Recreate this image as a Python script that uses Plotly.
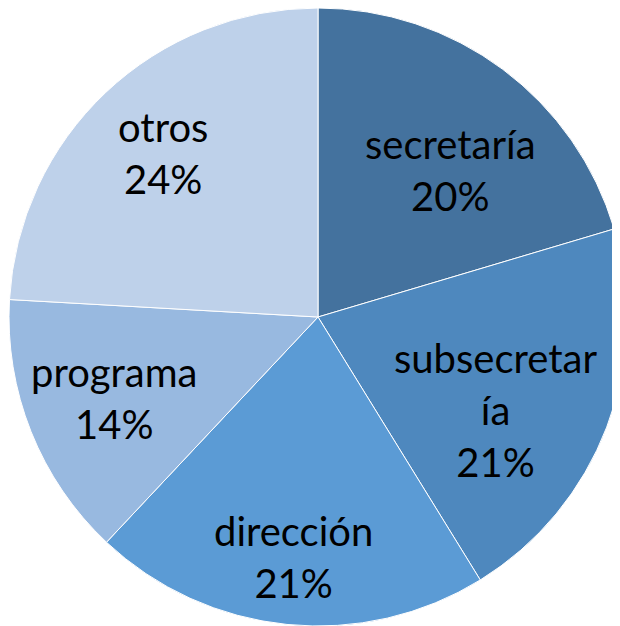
import math
import plotly.graph_objects as go

labels = ["secretaría", "subsecretaría", "dirección", "programa", "otros"]
label_text = ["secretaría", "subsecretar<br>ía", "dirección", "programa", "otros"]
values = [20.4, 20.8, 20.8, 13.9, 24.1]
colors = ["#44729E", "#4E88BE", "#5B9BD5", "#98B9E0", "#BED1EA"]
# label placement (style only): fraction of radius and angular nudge in degrees
label_radius = [0.64, 0.65, 0.78, 0.71, 0.73]
label_nudge = [5.2, 6.8, 0.0, 0.0, 0.0]

W, H = 620, 626
dom_y = [1 - 618 / H, 1.0]

fig = go.Figure(go.Pie(
    labels=labels,
    values=values,
    textinfo="none",
    sort=False,
    direction="clockwise",
    rotation=0,
    domain=dict(x=[0, 1], y=dom_y),
    marker=dict(colors=colors, line=dict(color="#FFFFFF", width=1)),
    showlegend=False,
    hoverinfo="label+percent",
))

# label positions derived from the slice angles
R = min(W, H * (dom_y[1] - dom_y[0])) / 2
cx = W / 2
cy = H * (1 - (dom_y[0] + dom_y[1]) / 2)  # from top
total = sum(values)
cum = 0.0
annotations = []
for txt, v, f, nd in zip(label_text, values, label_radius, label_nudge):
    mid = (cum + v / 2) / total * 2 * math.pi + math.radians(nd)
    cum += v
    px = cx + f * R * math.sin(mid)
    py = cy - f * R * math.cos(mid)
    pct = round(v / total * 100)
    annotations.append(dict(
        x=px / W, y=1 - py / H, xref="paper", yref="paper",
        xanchor="center", yanchor="middle", align="center",
        text=f"{txt}<br>{pct}%", showarrow=False,
        font=dict(family="Lato", size=40, color="#000000"),
    ))

fig.update_layout(
    width=W,
    height=H,
    margin=dict(l=0, r=0, t=0, b=0),
    paper_bgcolor="#FFFFFF",
    plot_bgcolor="#FFFFFF",
    annotations=annotations,
)

fig.write_html("out.html")
